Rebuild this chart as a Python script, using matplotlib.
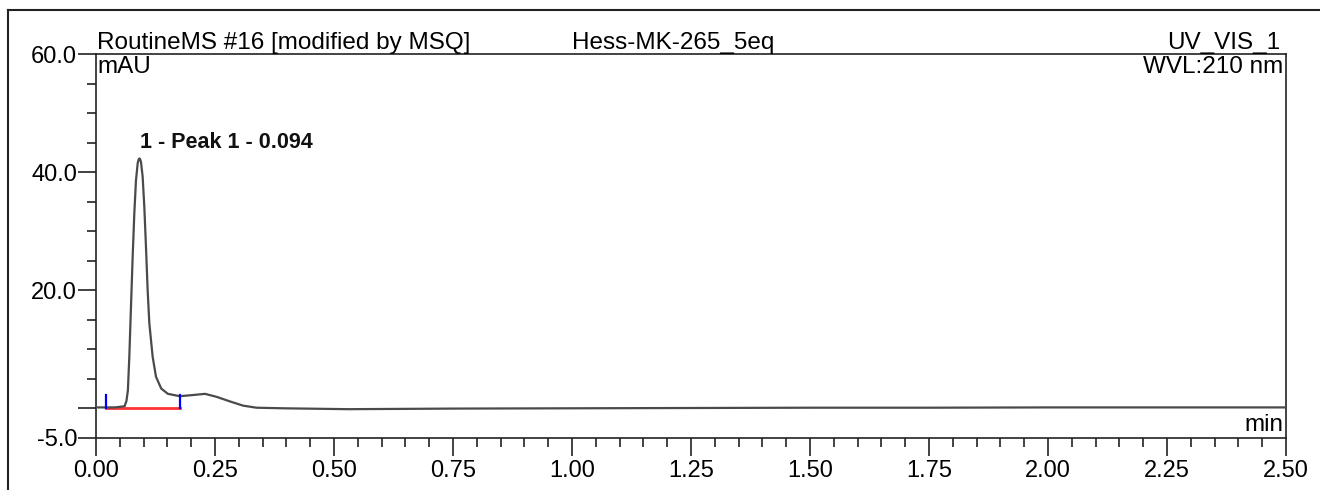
import numpy as np
import matplotlib
matplotlib.use('Agg')
import matplotlib.pyplot as plt
from matplotlib.lines import Line2D
from matplotlib.ticker import MultipleLocator, FixedLocator

plt.rcParams['font.family'] = ['Liberation Sans', 'DejaVu Sans']

# trace (time in min, signal in mAU)
time = [0.000, 0.020, 0.040, 0.060, 0.064, 0.067, 0.070, 0.0735, 0.077, 0.0805, 0.084,
        0.0876, 0.0895, 0.091, 0.0925, 0.0945, 0.098, 0.1015, 0.105, 0.1085, 0.112, 0.119, 0.126,
        0.137, 0.151, 0.176, 0.204, 0.229, 0.253, 0.282, 0.309, 0.337, 0.393,
        0.530, 0.750, 1.000, 1.250, 1.500, 1.750, 2.000, 2.250, 2.500]
signal = [0.1, 0.1, 0.1, 0.3, 1.2, 3.0, 8.7, 17.2, 25.6, 33.0, 38.6,
          41.5, 42.1, 42.3, 42.2, 41.7, 39.2, 34.1, 27.3, 20.0, 14.4, 8.7, 5.3,
          3.3, 2.4, 2.0, 2.2, 2.4, 1.9, 1.1, 0.4, 0.05, -0.05,
          -0.2, -0.1, -0.05, 0.0, 0.05, 0.05, 0.1, 0.1, 0.1]

# integration baseline and delimiters
peak_start, peak_end = 0.022, 0.176
base_level = -0.05
delim_top = 2.2
peak_time, peak_height = 0.092, 42.3
peak_label = '1 - Peak 1 - 0.094'

fig = plt.figure(figsize=(13.2, 4.9), dpi=100)
ax = fig.add_axes([96/1320, 52.5/490, 1190/1320, 383.5/490])

ax.plot(time, signal, color='#4a4a4a', lw=1.6, zorder=3)
ax.plot([peak_start, peak_end], [base_level, base_level], color='#ff3333', lw=2.0, zorder=2)
ax.plot([peak_start, peak_start], [base_level, delim_top], color='#0000ff', lw=1.6, zorder=4)
ax.plot([peak_end, peak_end], [base_level, delim_top], color='#0000ff', lw=1.6, zorder=4)

ax.text(peak_time, peak_height + 0.9, peak_label, fontsize=15.5, fontweight='bold',
        ha='left', va='bottom', color='#111111')

ax.set_xlim(0, 2.5)
ax.set_ylim(-5, 60)

ax.xaxis.set_major_locator(MultipleLocator(0.25))
ax.xaxis.set_minor_locator(MultipleLocator(0.05))
ax.xaxis.set_major_formatter(plt.FuncFormatter(lambda v, p: f'{v:.2f}'))
ax.yaxis.set_major_locator(FixedLocator([-5, 0, 20, 40, 60]))
ax.yaxis.set_minor_locator(MultipleLocator(5))
ax.yaxis.set_major_formatter(plt.FuncFormatter(lambda v, p: '' if v == 0 else f'{v:.1f}'))

ax.tick_params(which='major', length=13, width=1.2, labelsize=17, color='#222222')
ax.tick_params(which='minor', length=6.5, width=1.2, color='#222222')
ax.tick_params(axis='y', pad=0.5)
ax.tick_params(axis='x', pad=3)
for s in ax.spines.values():
    s.set_linewidth(1.2)
    s.set_color('#222222')

# header texts
ax.text(0.001, 1.0, 'RoutineMS #16 [modified by MSQ]', transform=ax.transAxes,
        fontsize=17.5, ha='left', va='bottom')
ax.text((572 - 96) / 1190, 1.0, 'Hess-MK-265_5eq', transform=ax.transAxes,
        fontsize=17.5, ha='left', va='bottom')
ax.text(0.995, 1.0, 'UV_VIS_1', transform=ax.transAxes,
        fontsize=17.5, ha='right', va='bottom')
ax.text(0.001, 0.995, 'mAU', transform=ax.transAxes, fontsize=17.5, ha='left', va='top')
ax.text(0.998, 0.995, 'WVL:210 nm', transform=ax.transAxes, fontsize=17.5, ha='right', va='top')
ax.text(0.998, 0.005, 'min', transform=ax.transAxes, fontsize=17.5, ha='right', va='bottom')

# outer frame
fig.add_artist(Line2D([8/1320, 1], [480/490, 480/490], transform=fig.transFigure,
                      color='#222222', lw=1.5))
fig.add_artist(Line2D([8/1320, 8/1320], [0, 480/490], transform=fig.transFigure,
                      color='#222222', lw=1.5))

fig.savefig('out.png', dpi=100)
